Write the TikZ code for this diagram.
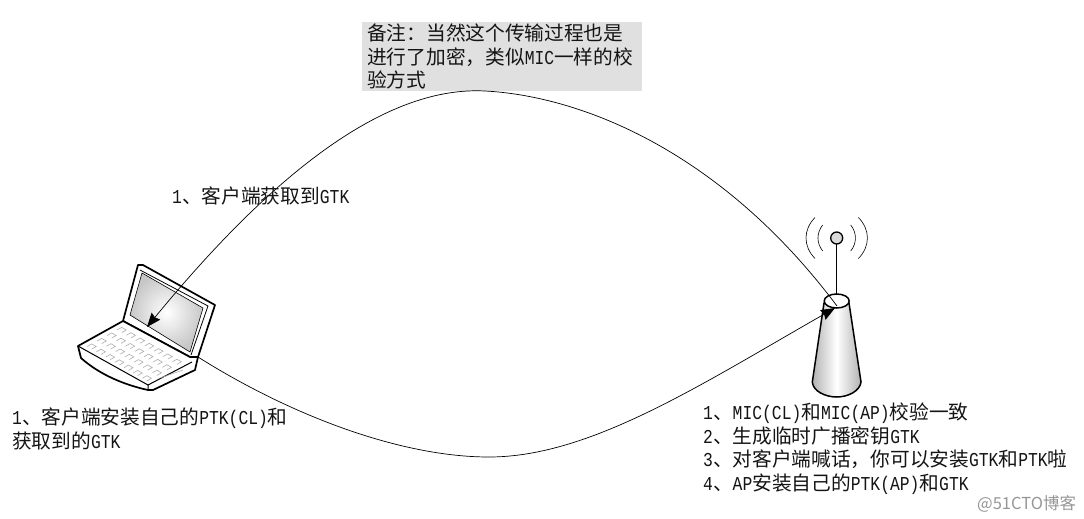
\documentclass[tikz,border=0pt]{standalone}
\usepackage{fontspec}
\setmainfont{Noto Sans CJK SC}
\newfontfamily\lat[FakeStretch=0.83]{Liberation Mono}
\newcommand{\ltn}[1]{{\lat #1}}
\usepackage{xcolor}
\usetikzlibrary{arrows.meta}
\definecolor{notegr}{RGB}{224, 224, 224}
\definecolor{keygr}{RGB}{175, 175, 175}
\definecolor{markgr}{RGB}{150, 150, 150}
\tikzset{
    txtlabel/.style={anchor=north west, inner sep=0pt, align=left, text=black!92,
        font=\fontsize{19.7}{23.4}\selectfont},
    outline/.style={line width=1.7pt, line join=round},
    keyline/.style={keygr, line width=0.6pt},
    link/.style={line width=0.7pt, -{Stealth[length=14pt, width=11pt, inset=1.5pt]}},
}

\begin{document}
\begin{tikzpicture}[x=1pt, y=-1pt]
        \useasboundingbox (0,0) rectangle (1084,519);

        % note
        \node[txtlabel, fill=notegr, minimum width=280, minimum height=69, text width=270,
            inner xsep=5, inner ysep=0] (note) at (362,22)
            {备注：当然这个传输过程也是\\进行了加密，类似\ltn{MIC}一样的校\\验方式};

        % laptop
        \draw[outline, fill=white] (138,265) -- (143,265) -- (215,305) -- (198,357) -- (190,357) -- (123,321) -- cycle;
        \draw[line width=0.8pt] (140,270) -- (208,306) -- (191,355);
        \shade[inner color=white, outer color=black!22, draw=black, line width=0.6pt]
            (142,273) -- (203,308) -- (190,352) -- (130,315) -- cycle;
        \draw[outline, fill=white] (123,321) -- (78,346) -- (81,358)
            .. controls (100,375) and (125,385) .. (148,390) -- (153,390) -- (195,370) -- (198,357) -- (190,357) -- cycle;
        \draw[line width=1pt] (78,346) -- (148,385) -- (148,390);
        \draw[line width=1pt] (148,385) -- (192,362);
        \foreach \col in {0,...,6} {
            \foreach \row in {0,...,3} {
                \draw[keyline] ({121.7+9.2*\col-10*\row-4.5},{330+5.3*\col+5.5*\row})
                    -- ++(4.5,-2.6) -- ++(4.5,2.6) -- ++(-4.5,2.6);
            }
        }
        \draw[keyline] (160,378) -- (183,370);
        \coordinate (lapin) at (147,327);
        \coordinate (lapout) at (198,357);

        % access point
        \draw[line width=1.2pt] (836.7,300) -- (836.7,243);
        \node[circle, draw=black, fill=black!15, line width=1.3pt, minimum size=12, inner sep=0pt] (ball) at (836.7,238) {};
        \foreach \sgn/\wa/\wh/\wb in {-1/14/13/20.3, 1/14/13/20.3, -1/21.7/20.5/33.7, 1/21.7/20.5/33.7} {
            \draw[line width=0.6pt] ({836.7+\sgn*\wa},{238+\wh})
                .. controls ({836.7+\sgn*\wb},{238+\wh*0.4}) and ({836.7+\sgn*\wb},{238-\wh*0.4})
                .. ({836.7+\sgn*\wa},{238-\wh});
        }
        \shade[left color=black!30, right color=black!30, middle color=white, draw=black, line width=1.5pt]
            (824,303) -- (812.3,382) .. controls (813,391) and (825,397) .. (836.7,397)
            .. controls (848,397) and (860,391) .. (861,382) -- (849,303) -- cycle;
        \draw[line width=1.5pt, fill=white] (836.7,301) ellipse [x radius=12.5, y radius=7];
        \coordinate (apin) at (835,308);
        \coordinate (apout) at (837,306);

        % links
        \draw[link] (apout) .. controls (720,150) and (580,96) .. (485,91)
            .. controls (390,86) and (280,165) .. (lapin);
        \draw[link] (lapout) .. controls (290,415) and (400,457) .. (489,457)
            .. controls (590,457) and (700,385) .. (apin);

        % labels
        \node[txtlabel] (getlabel) at (172,187) {\ltn{1}、客户端获取到\ltn{GTK}};
        \node[txtlabel] (cllabel) at (12,408) {\ltn{1}、客户端安装自己的\ltn{PTK(CL)}和\\获取到的\ltn{GTK}};
        \node[txtlabel] (aplabel) at (703,403) {\ltn{1}、\ltn{MIC(CL)}和\ltn{MIC(AP)}校验一致\\\ltn{2}、生成临时广播密钥\ltn{GTK}\\\ltn{3}、对客户端喊话，你可以安装\ltn{GTK}和\ltn{PTK}啦\\\ltn{4}、\ltn{AP}安装自己的\ltn{PTK(AP)}和\ltn{GTK}};
        \node[anchor=north west, inner sep=0pt, text=markgr, font=\fontsize{16.5}{18}\selectfont] (mark) at (977,495) {@51CTO博客};
    \end{tikzpicture}
\end{document}
